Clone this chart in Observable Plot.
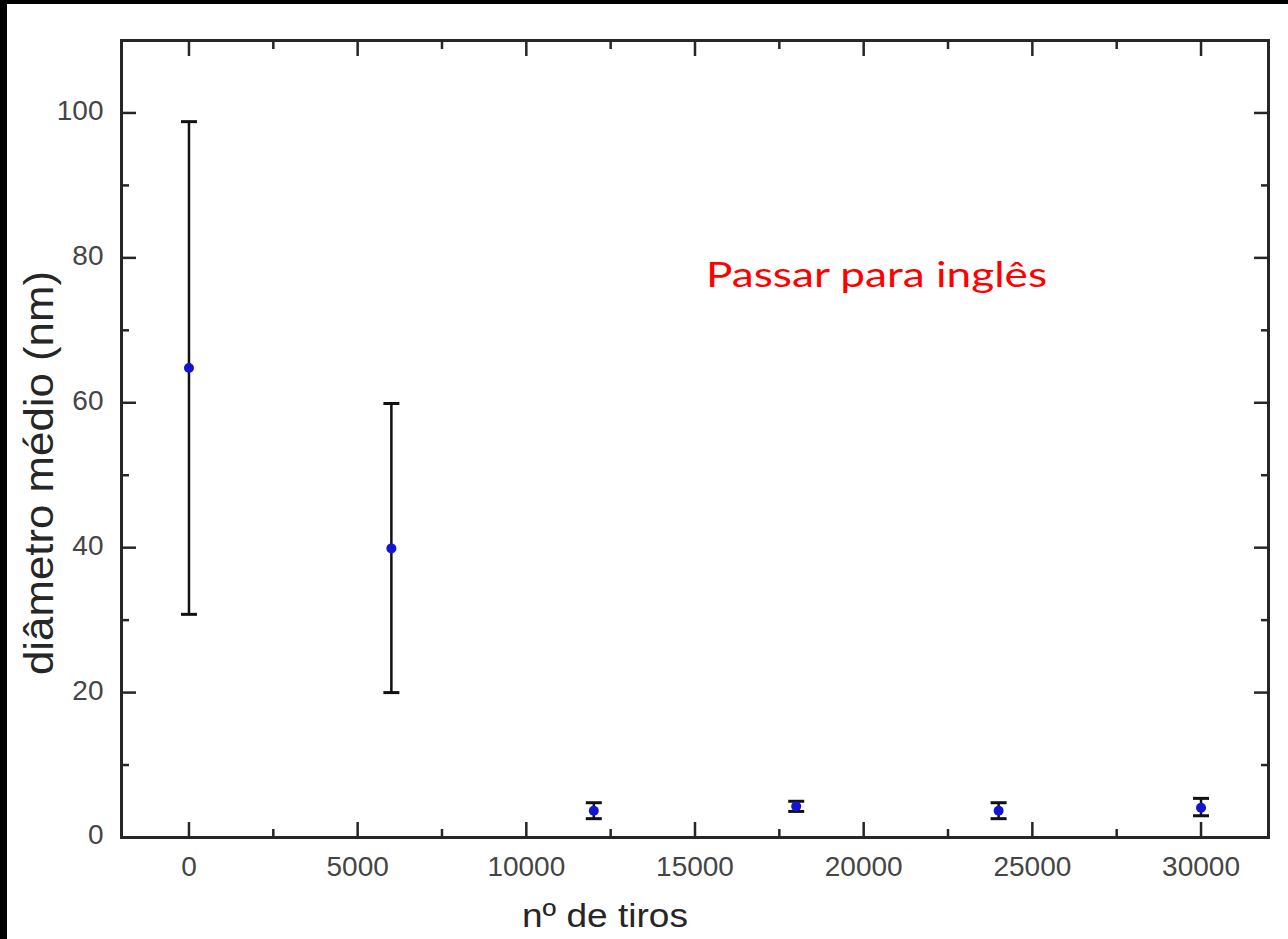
<!DOCTYPE html>
<html>
<head>
<meta charset="utf-8">
<script src="https://cdn.jsdelivr.net/npm/d3@7"></script>
<script src="https://cdn.jsdelivr.net/npm/@observablehq/plot@0.6"></script>
<style>
  html, body { margin: 0; padding: 0; background: #fff; }
  #wrap { position: relative; width: 1288px; height: 939px; overflow: hidden; background: #fff; }
  #wrap > svg { position: absolute; left: 0; top: 0; }
  .band { position: absolute; background: #000; }
</style>
</head>
<body>
<div id="wrap"></div>
<script>
// ---- data ----
const shots = [0, 6000, 12000, 18000, 24000, 30000];          // nº de tiros
const diameter = [64.8, 39.9, 3.7, 4.3, 3.7, 4.1];            // diâmetro médio (nm)
const errLow = [30.8, 20.0, 2.6, 3.6, 2.6, 3.0];
const errHigh = [98.8, 59.9, 4.8, 5.0, 4.8, 5.4];

const xMajorTicks = [0, 5000, 10000, 15000, 20000, 25000, 30000];
const xMinorTicks = [2500, 7500, 12500, 17500, 22500, 27500];
const yMajorTicks = [0, 20, 40, 60, 80, 100];
const yMinorTicks = [10, 30, 50, 70, 90];

const xLabel = "nº de tiros";
const yLabel = "diâmetro médio (nm)";
const note = "Passar para inglês";

const table = shots.map((x, i) => ({x, d: diameter[i], lo: errLow[i], hi: errHigh[i]}));

const capSymbol = {
  draw(ctx, size) {
    const w = Math.sqrt(size / Math.PI);
    ctx.moveTo(-w, 0);
    ctx.lineTo(w, 0);
  }
};

const axisColor = "#262626";
const tickLabelColor = "#454545";
const font = "'Liberation Sans', Arial, Helvetica, sans-serif";

const tickAxis = (fn, anchor, ticks, size) =>
  fn(ticks, {anchor, tickSize: -size, tickFormat: () => "", label: null, stroke: axisColor, strokeWidth: 2.5});

const chart = Plot.plot({
  width: 1288,
  height: 939,
  marginLeft: 121,
  marginRight: 20,
  marginTop: 40,
  marginBottom: 102,
  style: {fontFamily: font, fontSize: "28px", background: "transparent"},
  x: {domain: [-2000, 32000]},
  y: {domain: [0, 110]},
  marks: [
    tickAxis(Plot.axisX, "bottom", xMajorTicks, 15),
    tickAxis(Plot.axisX, "bottom", xMinorTicks, 8),
    tickAxis(Plot.axisX, "top", xMajorTicks, 15),
    tickAxis(Plot.axisX, "top", xMinorTicks, 8),
    tickAxis(Plot.axisY, "left", yMajorTicks, 15),
    tickAxis(Plot.axisY, "left", yMinorTicks, 8),
    tickAxis(Plot.axisY, "right", yMajorTicks, 15),
    tickAxis(Plot.axisY, "right", yMinorTicks, 8),
    Plot.axisX(xMajorTicks, {anchor: "bottom", tickSize: 0, tickPadding: 19, label: null,
      fontSize: 28, color: tickLabelColor, tickFormat: d => String(d)}),
    Plot.axisY(yMajorTicks, {anchor: "left", tickSize: 0, tickPadding: 18, label: null,
      fontSize: 28, color: tickLabelColor, dy: -2, tickFormat: d => String(d)}),
    Plot.ruleX(table, {x: "x", y1: "lo", y2: "hi", stroke: "#111", strokeWidth: 2.5}),
    Plot.dot(table, {x: "x", y: "hi", symbol: capSymbol, r: 8, fill: "none", stroke: "#111", strokeWidth: 3}),
    Plot.dot(table, {x: "x", y: "lo", symbol: capSymbol, r: 8, fill: "none", stroke: "#111", strokeWidth: 3}),
    Plot.dot(table, {x: "x", y: "d", r: 5, fill: "#1414d4", stroke: "none"}),
    Plot.frame({stroke: axisColor, strokeWidth: 3})
  ]
});

const wrap = document.getElementById("wrap");
wrap.appendChild(chart);

// overlay with the axis titles and the red note
const ns = "http://www.w3.org/2000/svg";
const over = document.createElementNS(ns, "svg");
over.setAttribute("width", 1288);
over.setAttribute("height", 939);
over.style.pointerEvents = "none";
function addText(str, attrs) {
  const t = document.createElementNS(ns, "text");
  for (const k in attrs) t.setAttribute(k, attrs[k]);
  t.textContent = str;
  over.appendChild(t);
  return t;
}
addText(note, {x: 706, y: 287, "font-family": "Lato, 'Noto Sans', sans-serif", "font-size": 35,
  fill: "#ff0000", textLength: 341, lengthAdjust: "spacingAndGlyphs"});
addText(xLabel, {x: 522, y: 927, "font-family": font, "font-size": 34,
  fill: "#262626", textLength: 166, lengthAdjust: "spacingAndGlyphs"});
addText(yLabel, {x: 0, y: 0, transform: "translate(53,675) rotate(-90)", "font-family": font, "font-size": 41,
  fill: "#262626", textLength: 404, lengthAdjust: "spacingAndGlyphs"});
wrap.appendChild(over);

// dark border bands of the screenshot
for (const [l, t, w, h] of [[0, 0, 1288, 4], [0, 0, 7, 939]]) {
  const b = document.createElement("div");
  b.className = "band";
  Object.assign(b.style, {left: l + "px", top: t + "px", width: w + "px", height: h + "px"});
  wrap.appendChild(b);
}
</script>
</body>
</html>
